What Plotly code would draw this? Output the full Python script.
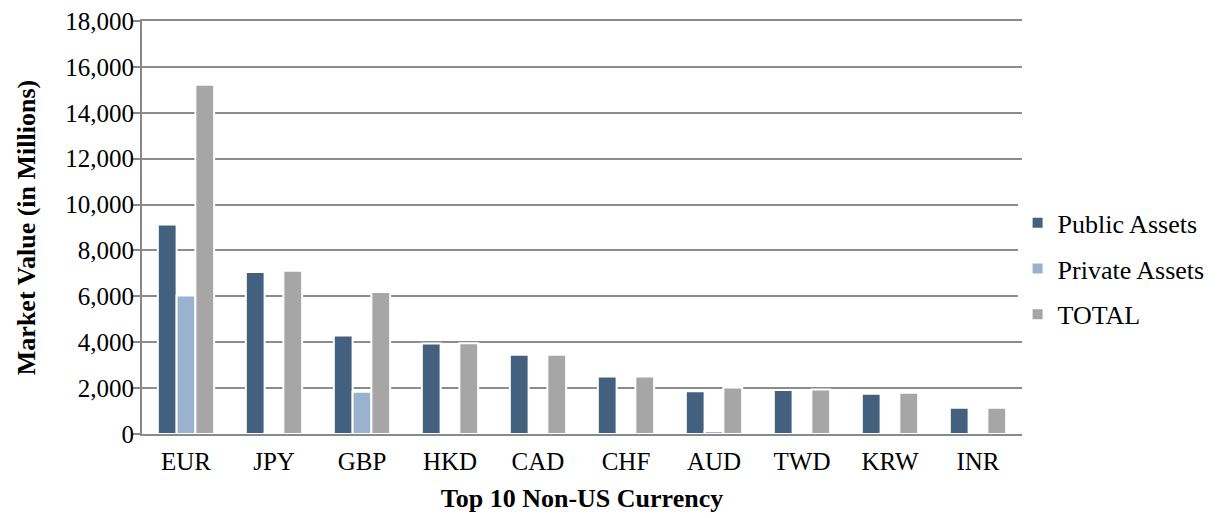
import plotly.graph_objects as go

currencies = ["EUR", "JPY", "GBP", "HKD", "CAD", "CHF", "AUD", "TWD", "KRW", "INR"]
public_assets = [9130, 7060, 4290, 3940, 3450, 2510, 1860, 1920, 1750, 1140]
private_assets = [6040, 40, 1840, 0, 0, 0, 130, 0, 30, 0]
total = [15220, 7120, 6190, 3960, 3450, 2510, 2030, 1940, 1800, 1140]

FONT = "Liberation Serif"

fig = go.Figure()
for name, vals, color in [
    ("Public Assets", public_assets, "#44607f"),
    ("Private Assets", private_assets, "#9bb2ce"),
    ("TOTAL", total, "#a6a6a6"),
]:
    fig.add_trace(go.Bar(x=currencies, y=vals, name=name, legendgroup=name,
                         marker=dict(color=color, line=dict(color="white", width=2))))

fig.update_layout(
    width=1226, height=518,
    margin=dict(l=134, r=212, t=13, b=92),
    barmode="group", bargap=0.36, bargroupgap=0,
    plot_bgcolor="white", paper_bgcolor="white",
    font=dict(family=FONT, size=24, color="black"),
    legend=dict(x=0.995, y=0.4, xanchor="left", yanchor="middle",
                font=dict(size=26), itemwidth=30, tracegroupgap=9,
                traceorder="grouped"),
    xaxis=dict(
        title=dict(text="<b>Top 10 Non-US Currency</b>", font=dict(size=26), standoff=15),
        showline=True, linecolor="#8a8a8a", linewidth=2, mirror=True,
        tickfont=dict(size=25), ticks="outside", ticklen=4,
        tickcolor="rgba(0,0,0,0)", automargin=False,
    ),
    yaxis=dict(
        title=dict(text="<b>Market Value (in Millions)</b>", font=dict(size=26), standoff=22),
        range=[0, 18000], dtick=2000, tickformat=",",
        showgrid=True, gridcolor="#8c8c8c", gridwidth=1.5,
        showline=True, linecolor="#888888", linewidth=2,
        ticks="outside", ticklen=8, tickcolor="#888888", tickwidth=1.5,
        tickfont=dict(size=25), ticklabelstandoff=-7, ticklabeloverflow="allow",
        zeroline=False, automargin=False,
    ),
)

fig.write_html("out.html")
